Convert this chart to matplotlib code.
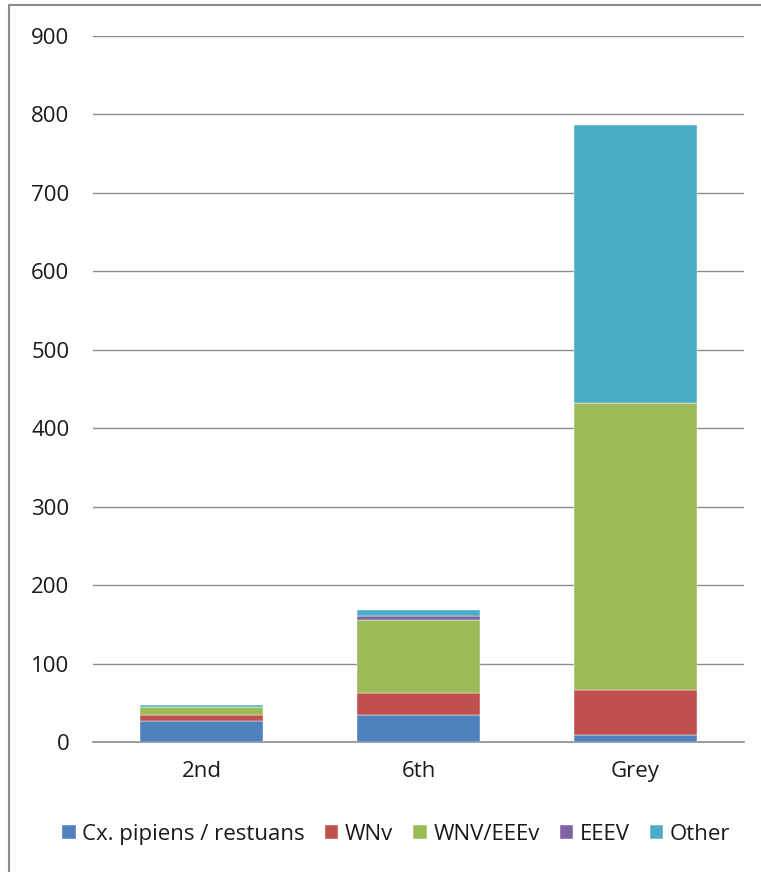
import matplotlib
matplotlib.use("Agg")
import matplotlib.pyplot as plt
from matplotlib.lines import Line2D
import numpy as np

categories = ["2nd", "6th", "Grey"]
series_names = ["Cx. pipiens / restuans", "WNv", "WNV/EEEv", "EEEV", "Other"]
cx_pipiens = [27, 35, 9]
wnv = [8, 27, 57]
wnv_eeev = [10, 93, 366]
eeev = [0, 5, 0]
other = [2, 8, 354]
colors = ["#4F81BD", "#C0504D", "#9BBB59", "#8064A2", "#4BACC6"]

plt.rcParams['font.family'] = ['Open Sans', 'DejaVu Sans']

fig = plt.figure(figsize=(7.61, 8.72), dpi=100)
ax = fig.add_axes([93/761, 1 - 742/872, (744-93)/761, (742-36)/872])

x = np.arange(len(categories))
bottom = np.zeros(len(categories))
for name, vals, c in zip(series_names, [cx_pipiens, wnv, wnv_eeev, eeev, other], colors):
    ax.bar(x, vals, width=0.57, bottom=bottom, color=c, label=name, zorder=3,
           edgecolor="#FFFFFF", linewidth=0.3)
    bottom += np.array(vals)

ax.set_xlim(-0.5, 2.5)
ax.set_ylim(0, 900)
ax.set_yticks(range(0, 901, 100))
ax.set_xticks(x)
ax.set_xticklabels(categories)
ax.yaxis.grid(True, color="#8C8C8C", linewidth=1, zorder=0)
for s in ["top", "right", "left"]:
    ax.spines[s].set_visible(False)
ax.spines["bottom"].set_color("#8C8C8C")
ax.spines["bottom"].set_linewidth(1.2)
ax.tick_params(axis="y", length=0, labelsize=16, pad=17, colors="#1a1a1a")
ax.tick_params(axis="x", length=0, labelsize=16, pad=14, colors="#1a1a1a")

leg = ax.legend(loc="center", bbox_to_anchor=(0.466, -0.131), ncol=5, frameon=False,
                fontsize=16, handlelength=0.6, handleheight=0.6, handletextpad=0.3,
                columnspacing=0.9)
for t in leg.get_texts():
    t.set_color("#1a1a1a")

fw, fh = 761, 872
fig.add_artist(Line2D([9/fw, 1.0], [1 - 5/fh, 1 - 5/fh], transform=fig.transFigure,
                      color="#8C8C8C", linewidth=1.5))
fig.add_artist(Line2D([9/fw, 9/fw], [0.0, 1 - 5/fh], transform=fig.transFigure,
                      color="#8C8C8C", linewidth=1.5))

fig.savefig("out.png", dpi=100)
